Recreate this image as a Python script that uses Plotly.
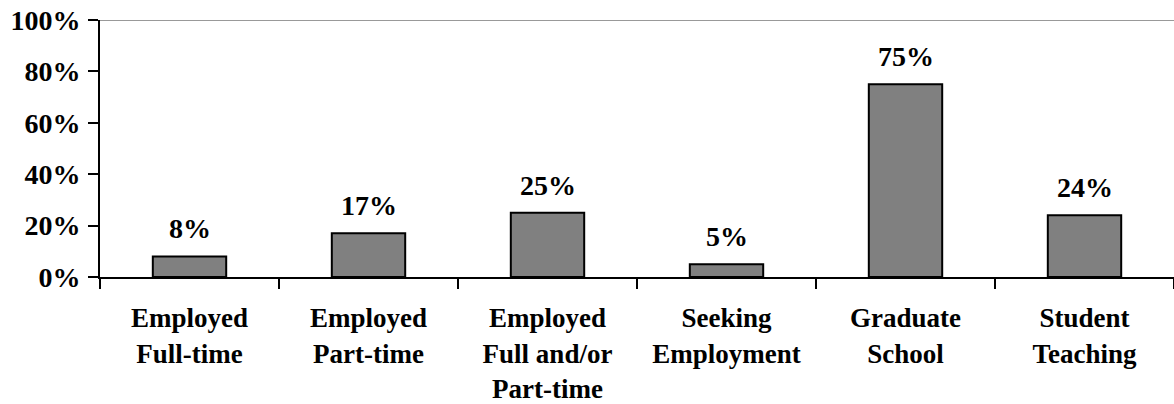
import plotly.graph_objects as go

categories = ["Employed<br>Full-time", "Employed<br>Part-time", "Employed<br>Full and/or<br>Part-time",
              "Seeking<br>Employment", "Graduate<br>School", "Student<br>Teaching"]
values = [0.08, 0.17, 0.25, 0.05, 0.75, 0.24]
labels = ["8%", "17%", "25%", "5%", "75%", "24%"]
y_ticks = [0, 0.2, 0.4, 0.6, 0.8, 1.0]

SERIF = "Liberation Serif, Times New Roman, serif"
FONT = dict(family=SERIF, size=28, color="black")

fig = go.Figure()
fig.add_trace(go.Bar(
    x=categories, y=values, width=0.41,
    marker=dict(color="#808080", line=dict(color="black", width=2)),
    hoverinfo="skip",
))

for c, v, t in zip(categories, values, labels):
    fig.add_annotation(x=c, y=v, text="<b>%s</b>" % t, showarrow=False,
                       yanchor="bottom", yshift=10, font=FONT)

fig.add_shape(type="line", xref="paper", yref="y", x0=0, x1=1, y0=1, y1=1,
              line=dict(color="#999999", width=2))

fig.update_layout(
    width=1174, height=404,
    margin=dict(l=100, r=0, t=20, b=127),
    paper_bgcolor="white", plot_bgcolor="white",
    showlegend=False,
    font=FONT,
)
fig.update_xaxes(
    type="category", automargin=False,
    tickson="boundaries",
    ticks="outside", ticklen=10, tickwidth=2, tickcolor="black",
    showline=True, linecolor="black", linewidth=2,
    showgrid=False,
    tickfont=dict(family=SERIF, size=27, color="black", weight="bold"),
    ticklabelstandoff=16,
)
fig.update_yaxes(
    range=[0, 1], tickvals=y_ticks, tickformat=".0%", automargin=False,
    ticks="outside", ticklen=10, tickwidth=2, tickcolor="black",
    showline=True, linecolor="black", linewidth=2,
    showgrid=False, zeroline=False,
    tickfont=dict(family=SERIF, size=28, color="black", weight="bold"),
    ticklabelstandoff=2,
)

fig.write_html("out.html",
               config={"displayModeBar": False, "staticPlot": True},
               post_script="document.body.style.margin='0';document.body.style.overflow='hidden';")
